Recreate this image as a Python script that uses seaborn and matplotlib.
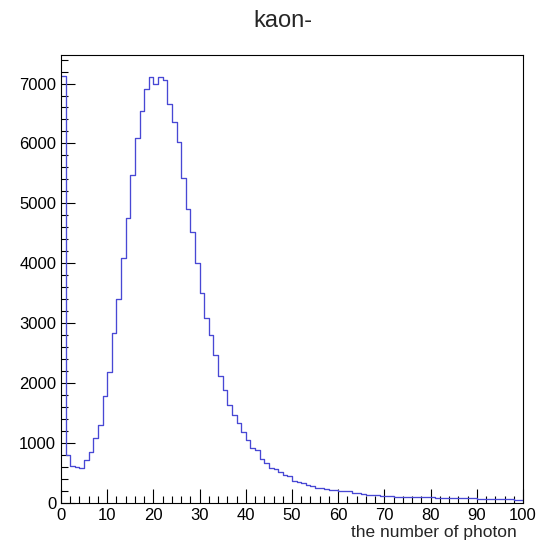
import numpy as np
import pandas as pd
import matplotlib
matplotlib.use("Agg")
import matplotlib.pyplot as plt
from matplotlib.ticker import MultipleLocator
import seaborn as sns

# Photon-count histogram for kaon-: one bin per photon number, 0..99
bin_edges = list(range(0, 101))
counts = [
    7120, 800, 610, 595, 580, 720, 856, 1085, 1300, 1790,
    2190, 2845, 3400, 4090, 4760, 5480, 6095, 6540, 6910, 7115,
    7000, 7110, 7065, 6660, 6350, 6020, 5430, 4900, 4520, 4000,
    3510, 3080, 2800, 2470, 2120, 1880, 1635, 1475, 1333, 1190,
    1056, 910, 878, 740, 667, 592, 567, 510, 465, 445,
    375, 350, 330, 305, 290, 255, 245, 232, 218, 215,
    205, 200, 195, 170, 165, 155, 140, 140, 130, 125,
    122, 110, 98, 95, 95, 96, 94, 95, 93, 92,
    94, 88, 86, 85, 84, 83, 84, 80, 82, 76,
    73, 72, 74, 70, 68, 67, 64, 62, 58, 56,
]
title = "kaon-"
x_label = "the number of photon"

centers = [(a + b) / 2 for a, b in zip(bin_edges[:-1], bin_edges[1:])]
df = pd.DataFrame({"photons": centers, "entries": counts})

sns.set_style("ticks")
plt.rcParams["font.family"] = ["Liberation Sans", "DejaVu Sans"]

fig = plt.figure(figsize=(5.37, 5.43), dpi=100)
ax = fig.add_axes([61 / 537, 40 / 543, (523 - 61) / 537, (503 - 55) / 543])

sns.histplot(data=df, x="photons", weights="entries", bins=bin_edges,
             element="step", fill=False, color="#4848d4", linewidth=0.95, ax=ax)

ax.set_xlim(0, 100)
ax.set_ylim(0, max(counts) * 1.05)
ax.set_xlabel("")
ax.set_ylabel("")

ax.xaxis.set_major_locator(MultipleLocator(10))
ax.xaxis.set_minor_locator(MultipleLocator(2))
ax.yaxis.set_major_locator(MultipleLocator(1000))
ax.yaxis.set_minor_locator(MultipleLocator(200))

ax.tick_params(axis="both", which="both", direction="in", colors="black",
               top=False, right=False, labelsize=12, width=0.8)
ax.tick_params(axis="both", which="major", length=10)
ax.tick_params(axis="both", which="minor", length=5)
ax.tick_params(axis="y", pad=3.5)
ax.tick_params(axis="x", pad=3.5)

for side in ["left", "right", "top", "bottom"]:
    ax.spines[side].set_visible(True)
    ax.spines[side].set_color("black")
    ax.spines[side].set_linewidth(0.8)

fig.text(283 / 537, 1 - 27 / 543, title, ha="center", va="baseline", fontsize=17)
fig.text(517 / 537, 1 - 537 / 543, x_label, ha="right", va="baseline", fontsize=12.5)

fig.savefig("out.png", dpi=100, facecolor="white")
